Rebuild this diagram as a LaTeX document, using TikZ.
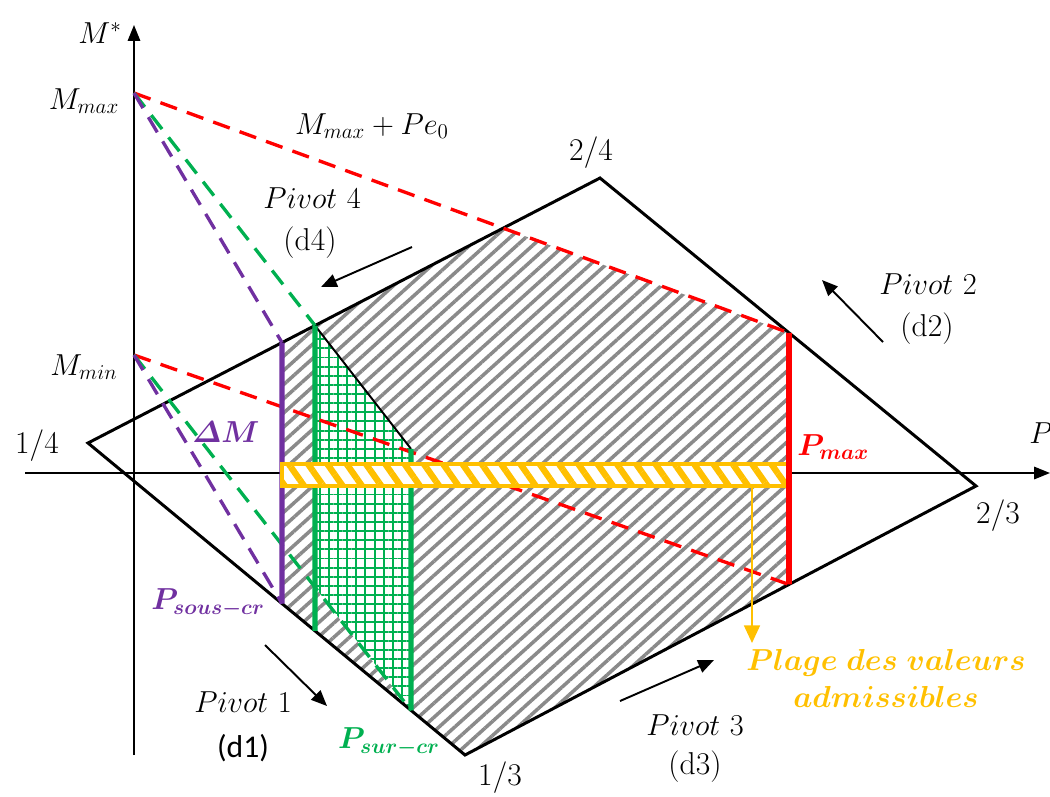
\documentclass[tikz,border=0pt]{standalone}
\usepackage{amsmath,bm}
\usepackage{fontspec}
\newfontfamily\sansd{Carlito}
\usetikzlibrary{patterns.meta,arrows.meta,calc}
\definecolor{cpurple}{HTML}{7030A0}
\definecolor{cgreen}{HTML}{00B050}
\definecolor{cred}{HTML}{FF0000}
\definecolor{cyellow}{HTML}{FFC000}
\definecolor{chatch}{HTML}{8A8A8A}
\begin{document}
\begin{tikzpicture}[x=0.02cm,y=-0.02cm,
  lbl/.style={font=\fontsize{18}{21}\selectfont, inner sep=0pt},
  plbl/.style={font=\fontsize{16.5}{19}\selectfont, inner sep=0pt, align=center},
  dashline/.style={line width=1.9pt, dash pattern=on 10pt off 6pt},
  vline/.style={line width=2.9pt},
  pivarrow/.style={line width=1.1pt, -{Triangle[length=9pt,width=7.5pt]}},
  axisarrow/.style={line width=1.1pt, -{Triangle[length=9pt,width=7pt]}}]
\useasboundingbox (0,0) rectangle (1050,796);
% main vertices
\coordinate (A) at (88,443);
\coordinate (B) at (600,178);
\coordinate (C) at (976,486);
\coordinate (D) at (465,755);
\coordinate (Mmax) at (134,93);
\coordinate (Mmin) at (134,355);
% helper verticals
\coordinate (s0) at (282,0);   \coordinate (s1) at (282,800);
\coordinate (g0) at (315,0);   \coordinate (g1) at (315,800);
\coordinate (h0) at (411,0);   \coordinate (h1) at (411,800);
\coordinate (r0) at (789,0);   \coordinate (r1) at (789,800);
% intersections
\coordinate (Pt) at (intersection of A--B and s0--s1);
\coordinate (Pb) at (intersection of A--D and s0--s1);
\coordinate (Gt) at (intersection of A--B and g0--g1);
\coordinate (Gb) at (intersection of A--D and g0--g1);
\coordinate (Rt) at (intersection of B--C and r0--r1);
\coordinate (Rb) at (intersection of D--C and r0--r1);
\coordinate (H)  at (intersection of A--B and Mmax--Rt);
\coordinate (Gt2) at (intersection of Mmax--Gt and h0--h1);
\coordinate (G2b) at (intersection of A--D and h0--h1);
\coordinate (Gm) at (intersection of Mmin--G2b and g0--g1);
% hatched admissible region
\fill[pattern={Lines[angle=42,distance=6pt,line width=2pt]}, pattern color=chatch]
  (Pt) -- (H) -- (Rt) -- (Rb) -- (D) -- (Pb) -- cycle;
% green grid region
\fill[white] (Gt) -- (Gt2) -- (G2b) -- (Gm) -- cycle;
\fill[pattern={Hatch[angle=0,distance=5.2pt,line width=1.1pt]}, pattern color=cgreen]
  (Gt) -- (Gt2) -- (G2b) -- (Gm) -- cycle;
\draw[line width=1.1pt] (Gt) -- (Gt2);
% diamond
\draw[line width=1.7pt, line join=miter] (A) -- (B) -- (C) -- (D) -- cycle;
% axes
\coordinate (xa0) at (25,473);  \coordinate (xa1) at (1050,473);
\coordinate (ya0) at (134,755); \coordinate (ya1) at (134,25);
\draw[axisarrow] (xa0) -- (xa1);
\draw[axisarrow] (ya0) -- (ya1);
% dashed lines
\draw[dashline, cred] (Mmax) -- (Rt);
\draw[dashline, cred] (Mmin) -- (Rb);
\draw[dashline, cgreen] (Mmax) -- (Gt);
\draw[dashline, cgreen] (Mmin) -- (G2b);
\draw[dashline, cpurple] (Mmax) -- (Pt);
\draw[dashline, cpurple] (Mmin) -- (Pb);
% vertical limits
\draw[vline, cgreen] (Gt) -- (Gb);
\draw[vline, cgreen] (Gt2) -- (G2b);
\draw[vline, cpurple] (Pt) -- (Pb);
% admissible bar
\coordinate (Y0) at (282,464); \coordinate (Y1) at (789,486);
\draw[cyellow, line width=1.8pt, preaction={fill=white},
  pattern={Lines[angle=-55,distance=9pt,line width=3.6pt]}, pattern color=cyellow]
  (Y0) rectangle (Y1);
\draw[vline, cred, line width=3.3pt] (Rt) -- (Rb);
\coordinate (ya) at (752,486); \coordinate (yb) at (752,643);
\draw[cyellow, line width=1.2pt, -{Triangle[length=10pt,width=9pt]}] (ya) -- (yb);
% pivot arrows
\coordinate (p4a) at (412,247); \coordinate (p4b) at (321,287);
\coordinate (p2a) at (883,342); \coordinate (p2b) at (822,280);
\coordinate (p1a) at (265,645); \coordinate (p1b) at (327,706);
\coordinate (p3a) at (620,701); \coordinate (p3b) at (714,660);
\draw[pivarrow] (p4a) -- (p4b);
\draw[pivarrow] (p2a) -- (p2b);
\draw[pivarrow] (p1a) -- (p1b);
\draw[pivarrow] (p3a) -- (p3b);
% labels
\node[lbl] (lMs) at (100,33) {$M^{*}$};
\node[lbl] (lMmax) at (84,101) {$M_{max}$};
\node[lbl] (lMmin) at (84,367) {$M_{min}$};
\node[lbl] (lMPe) at (372,126) {$M_{max}+Pe_{0}$};
\node[lbl] (l24) at (591,153) {2/4};
\node[lbl] (lP4) at (312,198) {$Pivot\ 4$};
\node[lbl] (ld4) at (310,243) {(d4)};
\node[lbl] (lP2) at (928,284) {$Pivot\ 2$};
\node[lbl] (ld2) at (927,329) {(d2)};
\node[lbl] (l14) at (37,446) {1/4};
\node[lbl, cpurple] (ldM) at (226,432) {$\bm{\varDelta M}$};
\node[lbl] (lP) at (1041,433) {$P$};
\node[lbl, cred, anchor=west] (lPmax) at (797,447) {$\bm{P_{max}}$};
\node[lbl] (l23) at (998,516) {2/3};
\node[lbl, cpurple] (lPs) at (208,603) {$\bm{P_{sous-cr}}$};
\node[lbl] (lP1) at (243,702) {$Pivot\ 1$};
\node[lbl] (ld1) at (243,748) {\sansd (d1)};
\node[lbl, cgreen] (lPsur) at (389,742) {$\bm{P_{sur-cr}}$};
\node[lbl] (l13) at (500,778) {1/3};
\node[lbl] (lP3) at (695,725) {$Pivot\ 3$};
\node[lbl] (ld3) at (695,767) {(d3)};
\node[plbl, cyellow] (lplage) at (886,678) {$\bm{Plage\ des\ valeurs}$\\[2pt]$\bm{admissibles}$};
\end{tikzpicture}
\end{document}
